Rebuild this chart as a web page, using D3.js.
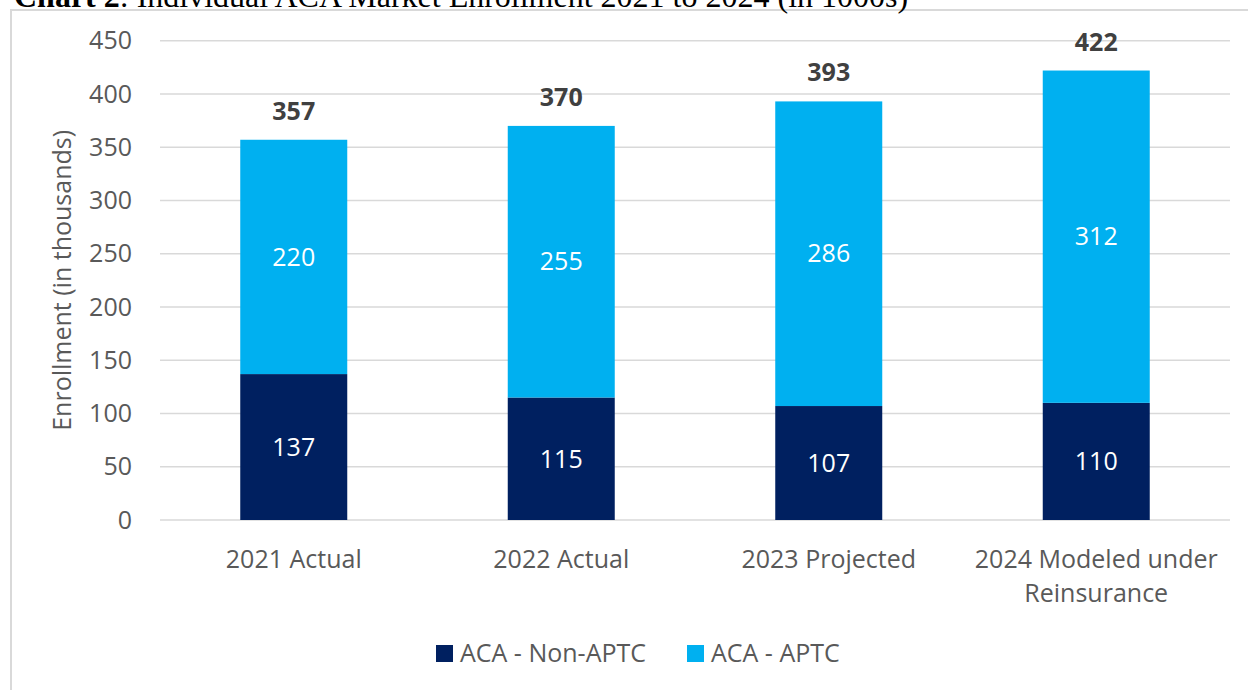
<!DOCTYPE html>
<html>
<head>
<meta charset="utf-8">
<script src="https://cdn.jsdelivr.net/npm/d3@7"></script>
<style>
  html, body { margin: 0; padding: 0; background: #fff; }
  svg { display: block; }
</style>
</head>
<body>
<div id="chart"></div>
<script>
const categories = ['2021 Actual', '2022 Actual', '2023 Projected', '2024 Modeled under|Reinsurance']
const nonAptc = [137, 115, 107, 110]
const aptc = [220, 255, 286, 312]
const totals = [357, 370, 393, 422]
const seriesNames = ['ACA - Non-APTC', 'ACA - APTC']
const yTicks = [0, 50, 100, 150, 200, 250, 300, 350, 400, 450]

const width = 1248, height = 690
const margin = {top: 40.7, left: 160, right: 18, bottom: 170}
const font = '"Open Sans", "DejaVu Sans", sans-serif'
const grey = '#595959'
const colors = ['#002060', '#00B0F0']

const svg = d3.select('#chart').append('svg')
  .attr('width', width)
  .attr('height', height)

// frame of the chart object (runs off the page right/bottom)
svg.append('rect')
  .attr('x', 11).attr('y', 10)
  .attr('width', 1300).attr('height', 800)
  .attr('fill', 'none')
  .attr('stroke', '#D9D9D9')
  .attr('stroke-width', 2)

// title, mostly cut off at the top like in the source
const title = svg.append('text')
  .attr('x', 14).attr('y', 7)
  .style('font-family', '"Liberation Serif", "Times New Roman", serif')
  .style('font-size', '32px')
  .attr('fill', '#000')
title.append('tspan').style('font-weight', 'bold').text('Chart 2')
title.append('tspan').text(': Individual ACA Market Enrollment 2021 to 2024 (in 1000s)')

const x = d3.scaleBand()
  .domain(categories)
  .range([margin.left, width - margin.right])
  .paddingInner(0.6)
  .paddingOuter(0.3)

const y = d3.scaleLinear()
  .domain([0, 450])
  .range([520, margin.top])

// gridlines
svg.append('g')
  .selectAll('line')
  .data(yTicks)
  .join('line')
  .attr('x1', margin.left)
  .attr('x2', width - margin.right)
  .attr('y1', d => y(d))
  .attr('y2', d => y(d))
  .attr('stroke', '#D9D9D9')
  .attr('stroke-width', 1.5)

// y axis labels
svg.append('g')
  .selectAll('text')
  .data(yTicks)
  .join('text')
  .attr('x', 132)
  .attr('y', d => y(d))
  .attr('dy', '0.35em')
  .attr('text-anchor', 'end')
  .style('font-family', font)
  .style('font-size', '25px')
  .attr('fill', grey)
  .text(d => d)

svg.append('text')
  .attr('transform', `translate(71,${(y(0) + y(450)) / 2}) rotate(-90)`)
  .attr('text-anchor', 'middle')
  .style('font-family', font)
  .style('font-size', '25px')
  .attr('fill', grey)
  .text('Enrollment (in thousands)')

// stacked data
const rows = categories.map((c, i) => ({cat: c, nonAptc: nonAptc[i], aptc: aptc[i], total: totals[i]}))
const stack = d3.stack().keys(['nonAptc', 'aptc'])(rows)

const layer = svg.append('g')
  .selectAll('g')
  .data(stack)
  .join('g')
  .attr('fill', (d, i) => colors[i])

layer.selectAll('rect')
  .data(d => d)
  .join('rect')
  .attr('x', d => x(d.data.cat))
  .attr('width', x.bandwidth())
  .attr('y', d => y(d[1]))
  .attr('height', d => y(d[0]) - y(d[1]))

layer.selectAll('text')
  .data((d, i) => d.map(s => ({s, key: stack[i].key})))
  .join('text')
  .attr('x', d => x(d.s.data.cat) + x.bandwidth() / 2)
  .attr('y', d => (y(d.s[0]) + y(d.s[1])) / 2)
  .attr('dy', '0.35em')
  .attr('text-anchor', 'middle')
  .style('font-family', font)
  .style('font-size', '25px')
  .attr('fill', '#fff')
  .text(d => d.s.data[d.key])

// totals
svg.append('g')
  .selectAll('text')
  .data(rows)
  .join('text')
  .attr('x', d => x(d.cat) + x.bandwidth() / 2)
  .attr('y', d => y(d.total) - 20)
  .attr('text-anchor', 'middle')
  .style('font-family', font)
  .style('font-size', '25px')
  .style('font-weight', 'bold')
  .attr('fill', '#404040')
  .text(d => d.total)

// category labels
const catLabels = svg.append('g')
  .selectAll('text')
  .data(categories)
  .join('text')
  .attr('x', d => x(d) + x.bandwidth() / 2)
  .attr('y', 568)
  .attr('text-anchor', 'middle')
  .style('font-family', font)
  .style('font-size', '25px')
  .attr('fill', grey)

catLabels.selectAll('tspan')
  .data(d => d.split('|'))
  .join('tspan')
  .attr('x', function () { return d3.select(this.parentNode).attr('x') })
  .attr('dy', (d, i) => i === 0 ? 0 : 34)
  .text(d => d)

// legend
const legendX = [436, 687]
const legend = svg.append('g')
  .selectAll('g')
  .data(seriesNames)
  .join('g')
  .attr('transform', (d, i) => `translate(${legendX[i]},645)`)

legend.append('rect')
  .attr('width', 17).attr('height', 17)
  .attr('fill', (d, i) => colors[i])

legend.append('text')
  .attr('x', 24)
  .attr('y', 8.5)
  .attr('dy', '0.35em')
  .style('font-family', font)
  .style('font-size', '25px')
  .attr('fill', grey)
  .text(d => d)
</script>
</body>
</html>
